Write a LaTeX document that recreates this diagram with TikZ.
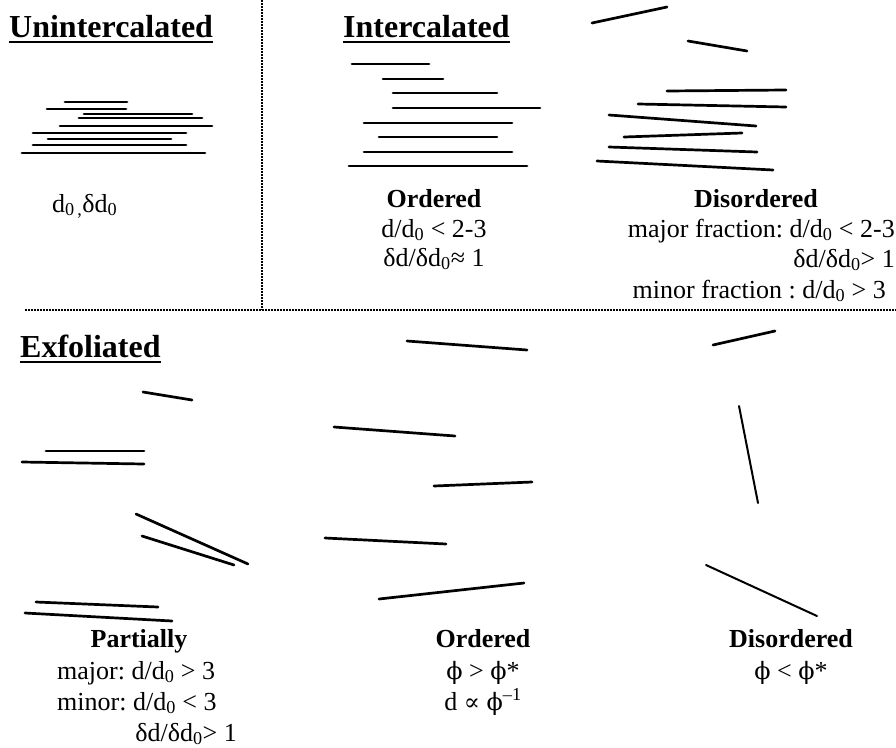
\documentclass[tikz,border=0pt]{standalone}
\usepackage{fontspec}
\setmainfont{Liberation Serif}
\newfontfamily\symfam{DejaVu Serif}[Scale=0.92]
\newcommand{\sub}[1]{\textsubscript{#1}}
\newcommand{\phisym}{{\symfam ϕ}}
\newcommand{\propsym}{{\symfam ∝}}
\frenchspacing
\begin{document}
\begin{tikzpicture}[x=1pt,y=-1pt,
  sheet/.style={line width=2.7pt, line cap=round},
  thinsheet/.style={line width=2pt, line cap=round},
  sep/.style={line width=1.5pt, dash pattern=on 1.5pt off 1.5pt},
  head/.style={font=\fontsize{32}{38}\selectfont\bfseries, inner sep=0pt, anchor=base west},
  lab/.style={font=\fontsize{26}{31}\selectfont, inner sep=0pt, anchor=base},
  labw/.style={lab, anchor=base west},
  labe/.style={lab, anchor=base east},
  title/.style={lab, font=\fontsize{26}{31}\selectfont\bfseries},
  ul/.style={line width=2.3pt}]
\useasboundingbox (0,0) rectangle (896,747);

% separators between the three regimes
\coordinate (vtop) at (262,0);
\coordinate (vbot) at (262,310);
\coordinate (hl) at (25,310);
\coordinate (hr) at (896,310);
\draw[sep] (vtop) -- (vbot);
\draw[sep] (hl) -- (hr);

% headings
\node[head] (hU) at (9,37) {Unintercalated};
\node[head] (hI) at (343,37) {Intercalated};
\node[head] (hE) at (20,357) {Exfoliated};
\foreach \h in {hU,hI,hE}
  \draw[ul] ([yshift=-5pt]\h.base west) -- ([yshift=-5pt]\h.base east);

% unintercalated stack
\draw[sheet] (65,102) -- (127,102);
\draw[sheet] (47,109) -- (126,109);
\draw[sheet] (84,114) -- (192,114);
\draw[sheet] (79,118) -- (202,118);
\draw[sheet] (60,126) -- (212,126);
\draw[sheet] (33,133) -- (186,133);
\draw[sheet] (48,139) -- (171,139);
\draw[sheet] (33,145) -- (186,145);
\draw[sheet] (22,153) -- (205,153);
\node[labw] (u1) at (52,212) {d\sub{0\,,}δd\sub{0}};

% intercalated, ordered
\draw[sheet] (352,64) -- (429,64);
\draw[sheet] (383,79) -- (443,79);
\draw[sheet] (393,93) -- (497,93);
\draw[sheet] (393,108) -- (540,108);
\draw[sheet] (364,123) -- (512,123);
\draw[sheet] (379,137) -- (497,137);
\draw[sheet] (364,152) -- (512,152);
\draw[sheet] (349,166) -- (527,166);
\node[title] (io0) at (434,207) {Ordered};
\node[lab] (io1) at (434,237) {d/d\sub{0} < 2-3};
\node[lab] (io2) at (434,266) {δd/δd\sub{0}≈ 1};

% intercalated, disordered
\draw[sheet] (592,23) -- (667,7);
\draw[sheet] (688,41) -- (747,51);
\draw[sheet] (667,91) -- (786,90);
\draw[sheet] (638,104) -- (786,107);
\draw[sheet] (609,115) -- (756,126);
\draw[sheet] (624,137) -- (742,133);
\draw[sheet] (609,147) -- (757,152);
\draw[sheet] (597,161) -- (773,170);
\node[title] (id0) at (756,207) {Disordered};
\node[labe] (id1) at (895,237) {major fraction: d/d\sub{0} < 2-3};
\node[labe] (id2) at (895,267) {δd/δd\sub{0}> 1};
\node[labe] (id3) at (886,298) {minor fraction : d/d\sub{0} > 3};

% exfoliated, partially
\draw[sheet] (143,392) -- (192,400);
\draw[sheet] (46,451) -- (144,451);
\draw[sheet] (22,462) -- (144,464);
\draw[sheet] (136,514) -- (248,564);
\draw[sheet] (142,536) -- (234,565);
\draw[sheet] (36,602) -- (158,607);
\draw[sheet] (25,613) -- (172,621);
\node[title] (ep0) at (139,647) {Partially};
\node[labw] (ep1) at (57,679) {major: d/d\sub{0} > 3};
\node[labw] (ep2) at (57,710) {minor: d/d\sub{0} < 3};
\node[labe] (ep3) at (237,741) {δd/δd\sub{0}> 1};

% exfoliated, ordered
\draw[sheet] (407,341) -- (527,350);
\draw[sheet] (334,427) -- (455,436);
\draw[sheet] (434,486) -- (532,482);
\draw[sheet] (325,538) -- (446,544);
\draw[sheet] (379,599) -- (524,583);
\node[title] (eo0) at (483,647) {Ordered};
\node[lab] (eo1) at (483,679) {\phisym{} > \phisym*};
\node[lab] (eo2) at (483,710) {d \propsym{} \phisym\textsuperscript{–1}};

% exfoliated, disordered
\draw[sheet] (713,345) -- (775,331);
\draw[thinsheet] (739,406) -- (758,503);
\draw[thinsheet] (706,565) -- (817,616);
\node[title] (ed0) at (791,647) {Disordered};
\node[lab] (ed1) at (791,679) {\phisym{} < \phisym*};
\end{tikzpicture}
\end{document}
